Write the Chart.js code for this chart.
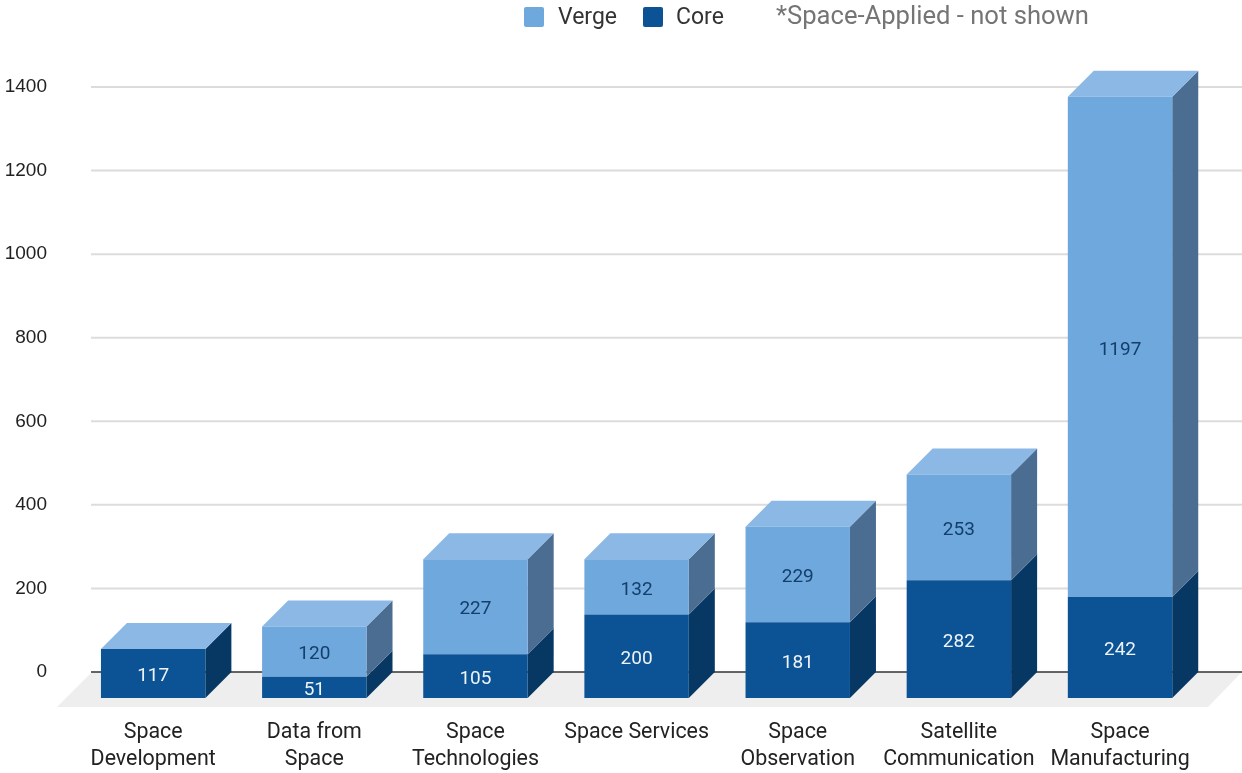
<!DOCTYPE html>
<html>
<head>
<meta charset="utf-8">
<style>
  body { margin: 0; background: #fff; }
  canvas { display: block; }
</style>
<script src="https://cdn.jsdelivr.net/npm/chart.js@4"></script>
</head>
<body>
<canvas id="sectorChart" width="1242" height="773"></canvas>
<script>
const categories = [
  ["Space", "Development"],
  ["Data from", "Space"],
  ["Space", "Technologies"],
  "Space Services",
  ["Space", "Observation"],
  ["Satellite", "Communication"],
  ["Space", "Manufacturing"],
];
const coreValues = [117, 51, 105, 200, 181, 282, 242];
const vergeValues = [0, 120, 227, 132, 229, 253, 1197];
const yTicks = [0, 200, 400, 600, 800, 1000, 1200, 1400];
const note = "*Space-Applied - not shown";

// Depth of the extruded bars, and how far the front faces sit below the back wall
const depthX = 26;
const depthY = 26;
const frontDrop = 26;

const VERGE = "#6fa8dc";
const CORE = "#0b5394";
const sideColors = ["#073763", "#4a6d91"];
const topColor = "#8bb8e5";

function poly(ctx, color, pts) {
  ctx.fillStyle = color;
  ctx.beginPath();
  pts.forEach((p, i) => (i ? ctx.lineTo(p[0], p[1]) : ctx.moveTo(p[0], p[1])));
  ctx.closePath();
  ctx.fill();
}

const bars3d = {
  id: "bars3d",
  beforeDatasetsDraw(chart) {
    const ctx = chart.ctx;
    const y = chart.scales.y;
    const zero = y.getPixelForValue(0);

    // floor
    poly(ctx, "#eeeeee", [[92, zero], [1242, zero], [1208, zero + 35], [57, zero + 35]]);

    // back wall grid lines
    yTicks.forEach((t) => {
      const py = y.getPixelForValue(t);
      ctx.strokeStyle = t === 0 ? "#333333" : "#dcdcdc";
      ctx.lineWidth = t === 0 ? 1.5 : 2;
      ctx.beginPath();
      ctx.moveTo(91, py);
      ctx.lineTo(1242, py);
      ctx.stroke();
    });

    // side faces per segment, top face on the stack
    chart.data.datasets.forEach((ds, d) => {
      chart.getDatasetMeta(d).data.forEach((bar) => {
        const right = bar.x + bar.width / 2;
        const t = bar.y + frontDrop;
        const b = bar.base + frontDrop;
        poly(ctx, sideColors[d], [[right, t], [right + depthX, t - depthY], [right + depthX, b - depthY], [right, b]]);
      });
    });
    chart.getDatasetMeta(1).data.forEach((bar) => {
      const left = bar.x - bar.width / 2;
      const right = bar.x + bar.width / 2;
      const t = bar.y + frontDrop;
      poly(ctx, topColor, [[left, t], [right, t], [right + depthX, t - depthY], [left + depthX, t - depthY]]);
    });

    ctx.save();
    ctx.translate(0, frontDrop);
  },
  afterDatasetsDraw(chart) {
    const ctx = chart.ctx;
    ctx.restore();

    // value labels
    ctx.font = "19px Roboto";
    ctx.textAlign = "center";
    ctx.textBaseline = "middle";
    chart.data.datasets.forEach((ds, d) => {
      chart.getDatasetMeta(d).data.forEach((bar, i) => {
        if (!ds.data[i]) return;
        ctx.fillStyle = d === 0 ? "#eef3f8" : "#123f6d";
        ctx.fillText(ds.data[i], bar.x, (bar.y + bar.base) / 2 + frontDrop + 3);
      });
    });

    // legend, Verge first
    const slots = [[524, 558], [643, 676]];
    ctx.textAlign = "left";
    ctx.font = "23px Roboto";
    [1, 0].forEach((d, i) => {
      const ds = chart.data.datasets[d];
      ctx.fillStyle = ds.backgroundColor;
      ctx.beginPath();
      ctx.roundRect(slots[i][0], 7, 20, 20, 2);
      ctx.fill();
      ctx.fillStyle = "#333333";
      ctx.fillText(ds.label, slots[i][1], 18);
    });
    ctx.font = "25.6px Roboto";
    ctx.fillStyle = "#757575";
    ctx.fillText(note, 776, 18);
  },
};

new Chart(document.getElementById("sectorChart"), {
  type: "bar",
  data: {
    labels: categories,
    datasets: [
      { label: "Core", data: coreValues, backgroundColor: CORE, clip: false },
      { label: "Verge", data: vergeValues, backgroundColor: VERGE, clip: false },
    ],
  },
  options: {
    responsive: false,
    animation: false,
    barPercentage: 1,
    categoryPercentage: 0.648,
    layout: { padding: { top: 87, right: 41.4, bottom: 0, left: 0 } },
    plugins: { legend: { display: false }, tooltip: { enabled: false } },
    scales: {
      x: {
        stacked: true,
        grid: { display: false },
        border: { display: false },
        afterFit(scale) { scale.height = 101; },
        ticks: {
          autoSkip: false,
          maxRotation: 0,
          padding: 39,
          color: "#222222",
          font: { family: "Roboto", size: 21.4, lineHeight: 1.262 },
        },
      },
      y: {
        stacked: true,
        min: 0,
        max: 1400,
        grid: { display: false },
        border: { display: false },
        afterFit(scale) { scale.width = 72.6; },
        afterBuildTicks(scale) { scale.ticks = yTicks.map((value) => ({ value })); },
        ticks: {
          padding: 17.6,
          color: "#222222",
          font: { family: "Liberation Sans", size: 19 },
          callback: (value) => String(value),
        },
      },
    },
  },
  plugins: [bars3d],
});
</script>
</body>
</html>
